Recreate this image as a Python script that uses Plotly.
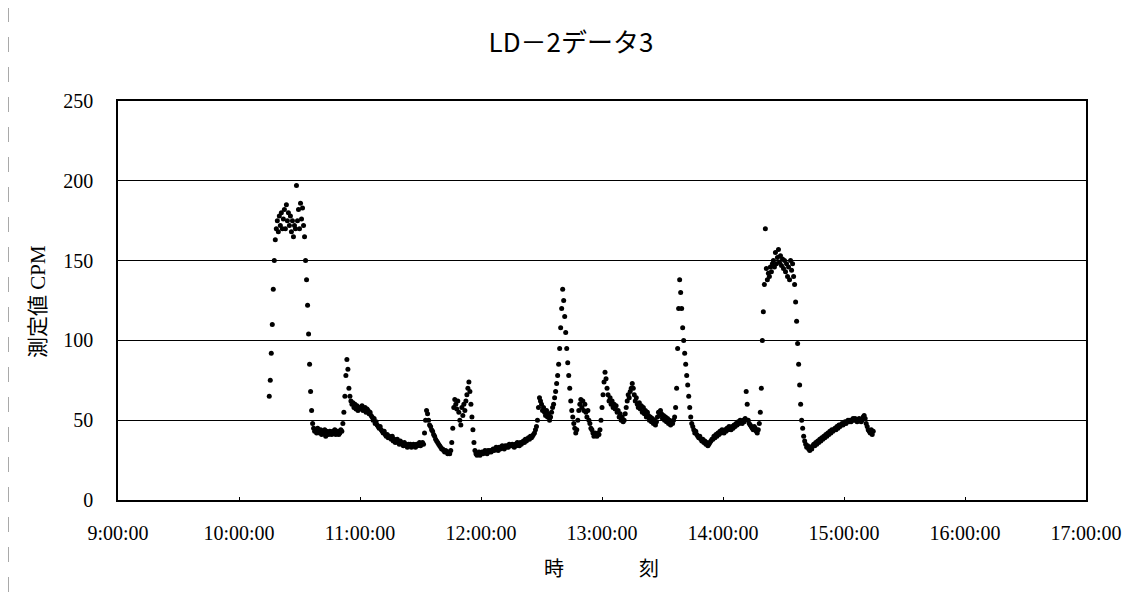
import pandas as pd
import plotly.graph_objects as go

# ---- data ----
title_text = "LD－2データ3"
y_title = "測定値 CPM"
x_title_chars = ["時", "刻"]
start_time = "2000-01-01 10:15:00"   # first sample
sample_step = "30s"                   # sampling interval
x_range = ["2000-01-01 09:00:00", "2000-01-01 17:00:00"]
y_ticks = [0, 50, 100, 150, 200, 250]

cpm_values = [
    # 10:15 - 10:24:30
    65, 75, 92, 110, 132, 150, 163, 170, 175, 168, 178, 172, 180, 170, 176, 182, 170, 185, 175, 180,
    # 10:25
    172, 178, 168, 175, 165, 172, 170, 197, 175, 182, 170, 186, 176, 183, 172, 165, 150, 138, 122, 104,
    # 10:35
    85, 68, 56, 48, 45, 43, 44, 42, 45, 43, 42, 44, 41, 43, 42, 44, 40, 43, 42, 41,
    # 10:45
    43, 42, 41, 43, 42, 44, 41, 42, 43, 41, 42, 44, 43, 48, 55, 65, 78, 88, 82, 70,
    # 10:55
    65, 62, 60, 61, 58, 60, 57, 59, 56, 58, 57, 58, 59, 56, 57, 58, 55, 57, 56, 54,
    # 11:05
    55, 53, 52, 50, 51, 48, 49, 47, 46, 45, 46, 44, 43, 42, 43, 41, 40, 41, 39, 40,
    # 11:15
    39, 38, 40, 37, 38, 36, 37, 38, 36, 35, 37, 36, 35, 34, 36, 35, 34, 33, 35, 34,
    # 11:25
    35, 33, 34, 35, 34, 33, 35, 34, 35, 36, 34, 35, 36, 35, 42, 50, 56, 54, 50, 47,
    # 11:35
    46, 44, 43, 41, 40, 38, 37, 36, 35, 34, 33, 32, 32, 31, 30, 31, 30, 29, 30, 29,
    # 11:45
    31, 36, 45, 58, 63, 60, 57, 62, 55, 50, 47, 58, 53, 60, 56, 62, 66, 70, 74, 68,
    # 11:55
    60, 52, 44, 36, 31, 29, 28, 29, 30, 28, 29, 30, 29, 30, 31, 30, 29, 31, 30, 31,
    # 12:05
    30, 31, 32, 31, 32, 33, 32, 31, 33, 32, 33, 34, 33, 32, 34, 33, 34, 33, 35, 34,
    # 12:15
    34, 35, 34, 33, 35, 34, 36, 35, 34, 36, 35, 36, 37, 36, 38, 37, 38, 39, 38, 40,
    # 12:25
    39, 40, 41, 42, 44, 46, 50, 58, 64, 62, 60, 56, 58, 55, 53, 56, 52, 54, 50, 52,
    # 12:35
    55, 58, 60, 64, 68, 73, 78, 85, 95, 108, 120, 132, 125, 115, 105, 95, 86, 78, 70, 62,
    # 12:45
    56, 52, 48, 45, 42, 44, 50, 56, 60, 63, 58, 62, 56, 60, 55, 52, 56, 50, 48, 45,
    # 12:55
    44, 42, 40, 42, 41, 40, 42, 41, 44, 50, 58, 66, 74, 80, 76, 70, 66, 62, 64, 60,
    # 13:05
    62, 58, 60, 57, 59, 55, 56, 52, 54, 50, 52, 49, 50, 54, 58, 62, 66, 64, 68, 70,
    # 13:15
    73, 70, 66, 62, 64, 60, 58, 61, 57, 59, 55, 58, 54, 56, 52, 55, 53, 50, 52, 49,
    # 13:25
    51, 48, 50, 47, 49, 52, 55, 53, 56, 54, 51, 53, 50, 52, 49, 51, 48, 50, 47, 49,
    # 13:35
    48, 50, 52, 58, 70, 95, 120, 138, 130, 120, 108, 100, 92, 85, 78, 72, 65, 58, 52, 48,
    # 13:45
    46, 44, 42, 43, 41, 40, 39, 40, 38, 37, 38, 36, 37, 35, 36, 34, 35, 36, 37, 38,
    # 13:55
    38, 40, 39, 41, 40, 42, 41, 43, 42, 44, 43, 42, 44, 43, 45, 44, 46, 45, 44, 46,
    # 14:05
    45, 47, 46, 48, 47, 49, 48, 50, 49, 48, 50, 49, 51, 68, 60, 50, 48, 47, 46, 45,
    # 14:15
    44, 46, 45, 43, 42, 44, 48, 55, 70, 100, 118, 135, 170, 145, 138, 142, 140, 146, 143, 148,
    # 14:25
    150, 146, 155, 148, 152, 157, 149, 153, 147, 151, 145, 150, 143, 148, 140, 146, 138, 150, 144, 148,
    # 14:35
    140, 135, 124, 112, 98, 85, 72, 60, 50, 45, 40, 37, 35, 33, 34, 32, 31, 33, 32, 34,
    # 14:45
    35, 34, 36, 35, 37, 36, 38, 37, 39, 38, 40, 39, 41, 40, 42, 41, 43, 42, 44, 43,
    # 14:55
    44, 45, 44, 46, 45, 47, 46, 47, 48, 47, 48, 49, 48, 49, 50, 49, 50, 49, 50, 51,
    # 15:05
    50, 51, 50, 49, 50, 51, 50, 49, 50, 52, 53, 51, 48, 46, 44, 43, 42, 44, 41, 43,
]

times = pd.date_range(start=start_time, periods=len(cpm_values), freq=sample_step)

# ---- figure ----
OFF = 8                      # page body margin in the browser
W, H = 1135 - OFF, 593 - OFF
L, T = 118 - OFF, 101 - OFF  # plot area left/top in page px
pw, ph = 968, 399
R, B = W - L - pw, H - T - ph


def px_to_paper_x(px):      # px: page coordinate
    return (px - OFF - L) / pw


def px_to_paper_y(py):
    return (T + ph - (py - OFF)) / ph


fig = go.Figure()
fig.add_trace(go.Scatter(
    x=times, y=cpm_values, mode="markers",
    marker=dict(color="black", size=5),
    showlegend=False, hoverinfo="x+y",
))

serif = "Liberation Serif, Times New Roman, Noto Sans CJK JP, serif"

fig.update_layout(
    width=W, height=H,
    margin=dict(l=L, r=R, t=T, b=B, autoexpand=False),
    paper_bgcolor="white", plot_bgcolor="white",
    title=dict(text=title_text, x=px_to_paper_x(571), xref="paper", xanchor="center",
               y=1 - (43 - OFF) / H, yref="container", yanchor="middle",
               font=dict(family="Noto Sans CJK JP, sans-serif", size=26, color="black")),
    xaxis=dict(type="date", range=x_range, dtick=3600000, tick0=x_range[0],
               tickformat="%-H:%M:%S", showgrid=False, zeroline=False,
               showline=True, linecolor="black", linewidth=1.5, mirror=True,
               ticks="inside", ticklen=3, tickcolor="black",
               ticklabelstandoff=14,
               tickfont=dict(family=serif, size=20, color="black")),
    yaxis=dict(range=[0, 250], tickvals=y_ticks, showgrid=True, gridcolor="black",
               gridwidth=1, zeroline=False,
               showline=True, linecolor="black", linewidth=1.5, mirror=True,
               ticks="", ticklabelstandoff=19,
               tickfont=dict(family=serif, size=20, color="black")),
    font=dict(family=serif, color="black"),
)

# axis titles as annotations for exact placement
fig.add_annotation(text=y_title, x=px_to_paper_x(38), y=px_to_paper_y(302), xref="paper", yref="paper",
                   textangle=-90, showarrow=False, xanchor="center", yanchor="middle",
                   font=dict(family=serif, size=21, color="black"))
for ch, cx in zip(x_title_chars, [554, 649]):
    fig.add_annotation(text=ch, x=px_to_paper_x(cx), y=px_to_paper_y(567), xref="paper", yref="paper",
                       showarrow=False, xanchor="center", yanchor="middle",
                       font=dict(family="Noto Sans CJK JP, sans-serif", size=20, color="black"))

# outer frame remnants of the scanned page
fig.add_shape(type="line", xref="paper", yref="paper",
              x0=px_to_paper_x(0), x1=px_to_paper_x(1135), y0=px_to_paper_y(7), y1=px_to_paper_y(7),
              line=dict(color="black", width=1.5))
fig.add_shape(type="line", xref="paper", yref="paper",
              x0=px_to_paper_x(8), x1=px_to_paper_x(8), y0=px_to_paper_y(7), y1=px_to_paper_y(593),
              line=dict(color="#555555", width=1, dash="longdash"))

fig.write_html("out.html")
